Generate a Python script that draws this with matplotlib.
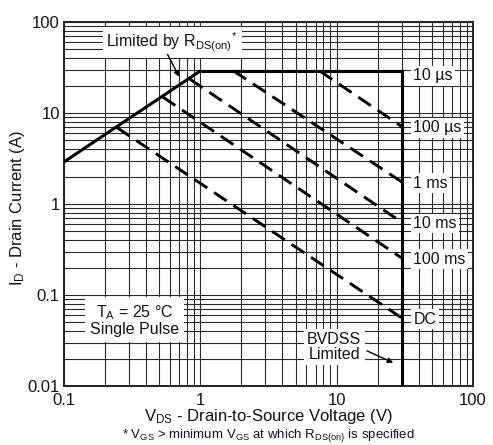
import matplotlib
matplotlib.use("Agg")
import matplotlib.pyplot as plt
from matplotlib.ticker import LogLocator, FixedLocator, NullFormatter

plt.rcParams["font.family"] = ["Liberation Sans", "DejaVu Sans"]
plt.rcParams["mathtext.fontset"] = "custom"
plt.rcParams["mathtext.rm"] = "Liberation Sans"
plt.rcParams["mathtext.it"] = "Liberation Sans"
plt.rcParams["mathtext.default"] = "rm"

# --- safe operating area data ---
rds_v = [0.1, 1.0]            # R_DS(on)-limited segment (V)
rds_i = [2.9, 29.0]           # (A)
i_max = 29.0                  # package current limit (A)
bvdss = 30.0                  # breakdown voltage limit (V)
i_floor = 0.01

pulse_labels = ["100 µs", "1 ms", "10 ms", "100 ms", "DC"]
pulse_start_v = [7.5, 1.75, 0.84, 0.53, 0.245]
pulse_start_i = [29.0, 29.0, 23.5, 15.0, 6.9]
pulse_end_i = [7.1, 1.75, 0.63, 0.255, 0.056]

x_ticks = [0.1, 1, 10, 100]
x_ticklabels = ["0.1", "1", "10", "100"]
y_ticks = [0.01, 0.1, 1, 10, 100]
y_ticklabels = ["0.01", "0.1", "1", "10", "100"]

ink = "#111122"
fs = 12
fs_note = 11.5

fig = plt.figure(figsize=(4.93, 4.45), dpi=100)
ax = fig.add_axes([0.1298, 0.1326, 0.8296, 0.818])
ax.set_xscale("log")
ax.set_yscale("log")
ax.set_xlim(0.1, 100)
ax.set_ylim(0.01, 100)

ax.xaxis.set_major_locator(FixedLocator(x_ticks))
ax.set_xticklabels(x_ticklabels)
ax.yaxis.set_major_locator(FixedLocator(y_ticks))
ax.set_yticklabels(y_ticklabels)
ax.xaxis.set_minor_locator(LogLocator(base=10, subs=range(2, 10), numticks=20))
ax.yaxis.set_minor_locator(LogLocator(base=10, subs=range(2, 10), numticks=20))
ax.xaxis.set_minor_formatter(NullFormatter())
ax.yaxis.set_minor_formatter(NullFormatter())
ax.tick_params(which="both", length=0, labelsize=fs, colors=ink)
ax.tick_params(axis="x", pad=5)
ax.tick_params(axis="y", pad=3)
ax.grid(which="both", color="#2a2a2a", lw=0.8)
ax.set_axisbelow(True)
for s in ax.spines.values():
    s.set_linewidth(1.4)
    s.set_color("#222222")

# boundary: R_DS(on) line, current ceiling and BVDSS wall
ax.plot(rds_v, rds_i, color="black", lw=2.2, solid_capstyle="butt", zorder=4)
ax.plot([rds_v[-1], bvdss], [i_max, i_max], color="black", lw=2.2, zorder=4)
ax.plot([bvdss, bvdss], [i_max, i_floor], color="black", lw=2.2, zorder=4)

# pulse-duration limits
for v0, i0, i1 in zip(pulse_start_v, pulse_start_i, pulse_end_i):
    ax.plot([v0, bvdss], [i0, i1], color="black", lw=2.1,
            linestyle=(0, (5.2, 2.8)), dash_capstyle="butt", zorder=4)

box = dict(boxstyle="square,pad=0.15", fc="white", ec="none")

# duration labels to the right of the BVDSS wall
ax.text(36.5, i_max * 0.88, "10 µs", fontsize=fs_note, color=ink, va="center",
        ha="left", bbox=box, zorder=5)
for lab, i1 in zip(pulse_labels, pulse_end_i):
    ax.text(36.5, i1 * 0.97, lab, fontsize=fs_note, color=ink, va="center",
            ha="left", bbox=box, zorder=5)

ax.text(0.205, 60, r"Limited by R$_{\mathrm{DS(on)}}$$^{*}$", fontsize=fs_note,
        color=ink, va="center", ha="left",
        bbox=dict(boxstyle="square,pad=0.25", fc="white", ec="none"), zorder=5)
ax.annotate("", xy=(0.70, 25), xytext=(0.575, 44),
            arrowprops=dict(arrowstyle="-|>", color="black", lw=1.0,
                            mutation_scale=8, shrinkA=0, shrinkB=0), zorder=6)

ax.text(0.33, 0.053, "T$_{\\mathrm{A}}$ = 25 °C\nSingle Pulse", fontsize=fs_note,
        color=ink, ha="center", va="center", linespacing=1.0,
        bbox=dict(boxstyle="square,pad=0.3", fc="white", ec="none"), zorder=5)

ax.text(9.6, 0.027, "BVDSS\nLimited", fontsize=fs_note, color=ink, ha="center",
        va="center", linespacing=1.0,
        bbox=dict(boxstyle="square,pad=0.2", fc="white", ec="none"), zorder=5)
ax.annotate("", xy=(26, 0.018), xytext=(16.7, 0.0243),
            arrowprops=dict(arrowstyle="-|>", color="black", lw=1.0,
                            mutation_scale=8, shrinkA=0, shrinkB=0), zorder=6)

ax.set_ylabel("I$_{\\mathrm{D}}$ - Drain Current (A)", fontsize=fs, color=ink)
ax.yaxis.set_label_coords(-0.09, 0.49)
ax.set_xlabel("V$_{\\mathrm{DS}}$ - Drain-to-Source Voltage (V)", fontsize=fs,
              color=ink, labelpad=-1)
fig.text(0.5445, 0.002,
         "* V$_{\\mathrm{GS}}$ > minimum V$_{\\mathrm{GS}}$ at which "
         "R$_{\\mathrm{DS(on)}}$ is specified",
         fontsize=9.5, color=ink, ha="center", va="bottom")

fig.savefig("out.png", dpi=100)
